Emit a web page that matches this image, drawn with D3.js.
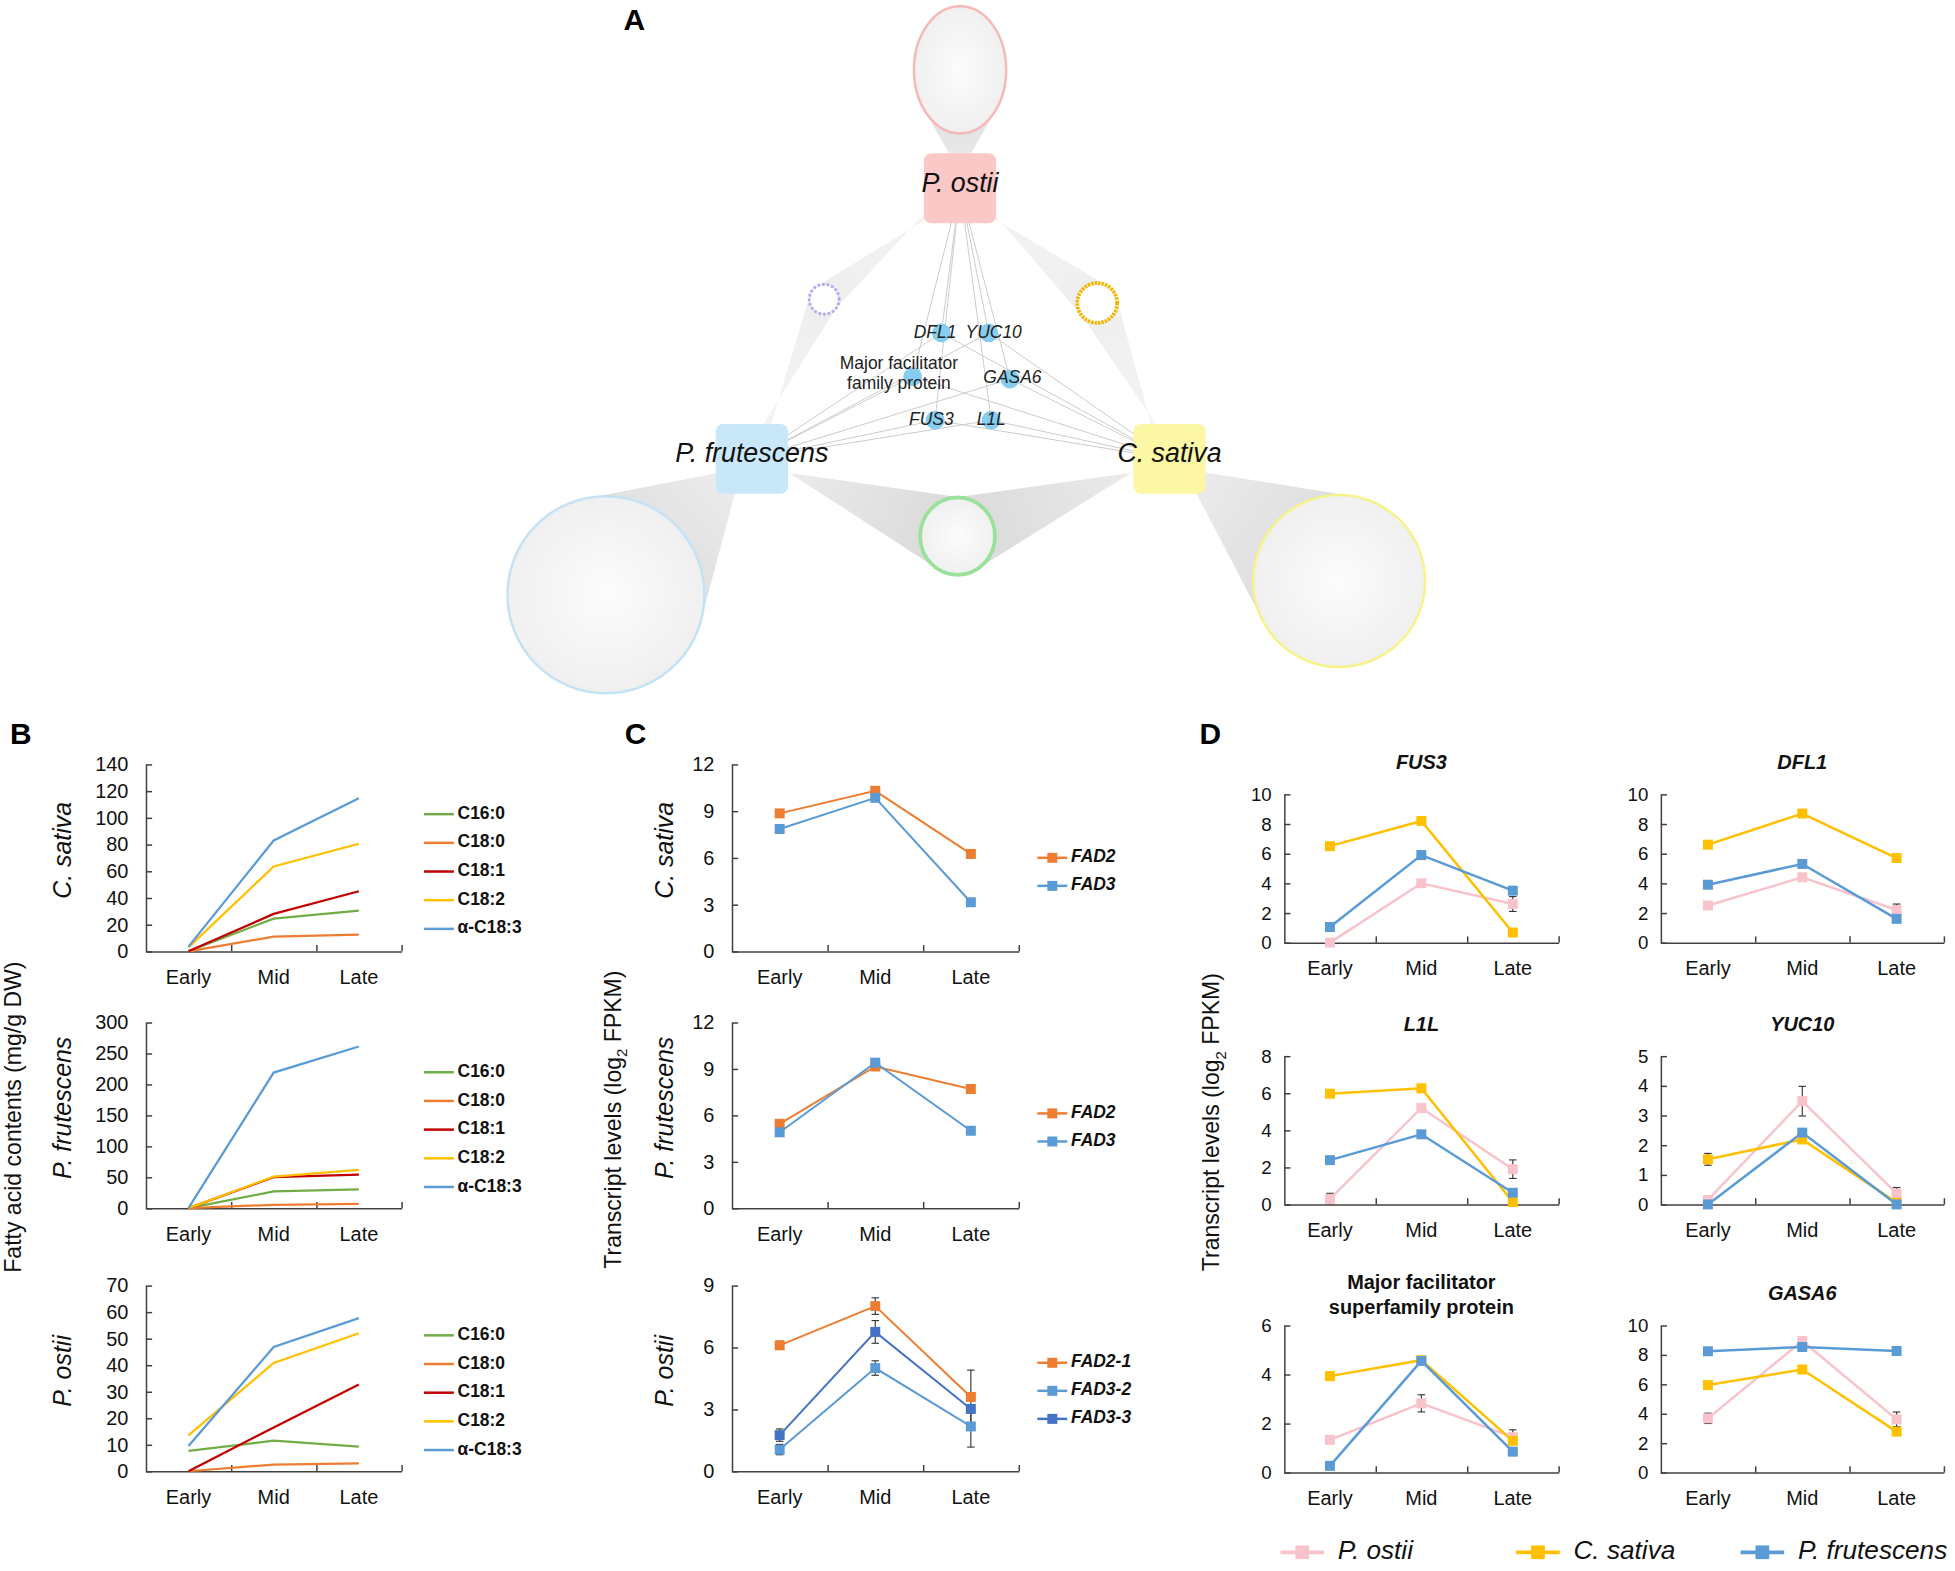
<!DOCTYPE html>
<html>
<head>
<meta charset="utf-8">
<script src="https://cdn.jsdelivr.net/npm/d3@7"></script>
<style>
  body { margin: 0; background: #fff; }
  svg { display: block; font-family: "Liberation Sans", Arial, sans-serif; }
</style>
</head>
<body>
<div id="fig"></div>
<script>
// ---------- data ----------
var stages = ["Early", "Mid", "Late"];

// A: network
var hubs = ["P. ostii", "P. frutescens", "C. sativa"];
var genes = ["DFL1", "YUC10", "Major facilitator|family protein", "GASA6", "FUS3", "L1L"];
var clusterHubs = [[0], [1], [2], [0, 1], [0, 2], [1, 2]];

// B: fatty acid contents (mg/g DW), one row per fatty acid, Early/Mid/Late
var fattyAcids = ["C16:0", "C18:0", "C18:1", "C18:2", "α-C18:3"];
var faSativa = [[0, 24.5, 30.5], [0, 11, 12.5], [0, 28, 45], [3, 63.5, 80.5], [3.5, 83, 114.5]];
var faFrutescens = [[0, 27, 30.5], [0, 5.5, 7], [0, 50, 54], [0, 51, 62], [0, 219, 261]];
var faOstii = [[7.7, 11.5, 9.3], [0, 2.5, 3], [0, 16.5, 32.7], [13.5, 40.8, 52], [9.5, 46.8, 57.7]];
var faTicks = [[0, 140, 20], [0, 300, 50], [0, 70, 10]];

// C: FAD transcript levels (log2 FPKM)
var fadGenes = ["FAD2", "FAD3"];
var fadSativa = [[8.85, 10.3, 6.25], [7.85, 9.85, 3.15]];
var fadFrutescens = [[5.45, 9.15, 7.7], [4.9, 9.4, 5.0]];
var fadGenesOstii = ["FAD2-1", "FAD3-2", "FAD3-3"];
var fadOstii = [[6.1, 8.0, 3.6], [1.05, 5.0, 2.17], [1.75, 6.75, 3.02]];
var fadOstiiErr = [[0.2, 0.4, 1.3], [0.25, 0.35, 1.0], [0.3, 0.55, 0.2]];

// D: candidate genes, species order P. ostii / C. sativa / P. frutescens
var species = ["P. ostii", "C. sativa", "P. frutescens"];
var dGenes = ["FUS3", "DFL1", "L1L", "YUC10", "Major facilitator|superfamily protein", "GASA6"];
var dMax = [10, 10, 8, 5, 6, 10];
var dStep = [2, 2, 2, 1, 2, 2];
var dOstii = [[0, 4.0, 2.6], [2.5, 4.4, 2.2], [0.3, 5.2, 1.9], [0.15, 3.48, 0.37], [1.33, 2.82, 1.44], [3.68, 8.94, 3.61]];
var dOstiiErr = [[0, 0.2, 0.5], [0.1, 0.2, 0.4], [0.3, 0.15, 0.5], [0.1, 0.5, 0.2], [0.1, 0.35, 0.3], [0.35, 0.2, 0.5]];
var dSativa = [[6.5, 8.2, 0.68], [6.6, 8.7, 5.7], [5.97, 6.26, 0.13], [1.52, 2.19, 0.06], [3.93, 4.58, 1.29], [5.94, 7.0, 2.78]];
var dSativaErr = [[0, 0.1, 0.1], [0.1, 0.1, 0.1], [0.1, 0.1, 0.1], [0.2, 0.1, 0], [0.1, 0.1, 0.1], [0.1, 0.1, 0.1]];
var dFrutescens = [[1.05, 5.9, 3.5], [3.9, 5.3, 1.6], [2.39, 3.78, 0.63], [0, 2.42, 0], [0.27, 4.55, 0.85], [8.24, 8.53, 8.26]];

// ---------- styles / layout ----------
var faColors = ["#70ad47", "#ed7d31", "#c00000", "#ffc000", "#5b9bd5"];
var fadColors = ["#ed7d31", "#5b9bd5"];
var fadOstiiColors = ["#ed7d31", "#5b9bd5", "#4472c4"];
var spColors = ["#f8c3cb", "#ffc000", "#5b9bd5"];

var hubColors = ["#fbc8c8", "#c8e7f9", "#fbf7a4"];
var clusterStroke = ["#f5b9b9", "#c3e2f5", "#f5f38a", "#b3acf0", "#f1b600", "#9ae29b"];
var axisColor = "#404040";

var svg = d3.select("#fig").append("svg")
    .attr("width", 1955).attr("height", 1571)
    .attr("viewBox", "0 0 1568 1260");

var defs = svg.append("defs");
var rg = defs.append("radialGradient").attr("id", "cfill");
rg.append("stop").attr("offset", "0%").attr("stop-color", "#fcfcfc");
rg.append("stop").attr("offset", "100%").attr("stop-color", "#f0f0f0");

// panel letters
[["A", 500, 24], ["B", 8, 597], ["C", 501, 597], ["D", 962, 597]].forEach(function(l) {
  svg.append("text").attr("x", l[1]).attr("y", l[2]).text(l[0])
    .style("font-weight", "bold").style("font-size", "24px");
});

// ---------- A: network ----------
var hubXY = [[770, 151], [603, 368], [938, 368]];
// cx, cy, rx, ry
var clusterXY = [[770, 56, 37, 51], [486, 477, 79, 79], [1074, 466, 69, 69], [661, 240, 12, 12], [880, 243, 16, 16], [768, 430, 30, 31]];
var geneXY = [[755, 267], [793, 267], [732, 302], [810, 304], [750, 337], [795, 337]];
var geneLabelXY = [[750, 267], [797, 267], [721, 292], [812, 303], [747, 337], [795, 337]];

var gA = svg.append("g");

// tangent points from p to an ellipse (affine map to a circle and back)
function tangentPts(p, c) {
  var k = c[2] / c[3];
  var dx = p[0] - c[0], dy = (p[1] - c[1]) * k;
  var d = Math.hypot(dx, dy), a = Math.atan2(dy, dx), b = Math.acos(Math.min(1, c[2] / d));
  return [a + b, a - b].map(function(t) {
    return [c[0] + c[2] * Math.cos(t), c[1] + c[2] * Math.sin(t) / k];
  });
}

// wedges (edge bundles) from hubs to clusters
clusterHubs.forEach(function(hs, ci) {
  var c = clusterXY[ci];
  hs.forEach(function(h) {
    var p = hubXY[h];
    var t = tangentPts(p, c);
    var ang = Math.atan2(c[1] - p[1], c[0] - p[0]) + Math.PI / 2;
    var w = 7;
    var id = "wg" + ci + "_" + h;
    var lg = defs.append("linearGradient").attr("id", id).attr("gradientUnits", "userSpaceOnUse")
      .attr("x1", p[0]).attr("y1", p[1]).attr("x2", c[0]).attr("y2", c[1]);
    var faint = ci === 3 || ci === 4;
    lg.append("stop").attr("offset", "0%").attr("stop-color", faint ? "#f5f5f5" : "#efefef");
    lg.append("stop").attr("offset", "100%").attr("stop-color", faint ? "#eeeeee" : "#d9d9d9");
    gA.append("polygon")
      .attr("points", [[p[0] + w * Math.cos(ang), p[1] + w * Math.sin(ang)], t[0], t[1],
                       [p[0] - w * Math.cos(ang), p[1] - w * Math.sin(ang)]].map(function(q) { return q.join(","); }).join(" "))
      .attr("fill", "url(#" + id + ")");
  });
});

// gene edges
genes.forEach(function(gname, gi) {
  hubXY.forEach(function(p) {
    gA.append("line").attr("x1", geneXY[gi][0]).attr("y1", geneXY[gi][1])
      .attr("x2", p[0]).attr("y2", p[1])
      .attr("stroke", "#cccccc").attr("stroke-width", 0.8);
  });
});

// clusters
clusterXY.forEach(function(c, i) {
  var el = gA.append("ellipse").attr("cx", c[0]).attr("cy", c[1]).attr("rx", c[2]).attr("ry", c[3])
    .attr("fill", "url(#cfill)")
    .attr("stroke", clusterStroke[i]).attr("stroke-width", i >= 3 ? 3 : 2);
  if (i === 3) el.attr("stroke-dasharray", "0.1 3.6").attr("stroke-linecap", "round").attr("stroke-width", 2.6).attr("fill", "#fff");
  if (i === 4) el.attr("stroke-dasharray", "2 0.8").attr("fill", "#fff");
});

// hubs
hubs.forEach(function(h, i) {
  gA.append("rect").attr("x", hubXY[i][0] - 29).attr("y", hubXY[i][1] - 28)
    .attr("width", 58).attr("height", 56).attr("rx", 6)
    .attr("fill", hubColors[i]);
});
hubs.forEach(function(h, i) {
  gA.append("text").attr("x", hubXY[i][0]).attr("y", hubXY[i][1] - 3)
    .attr("text-anchor", "middle").attr("dominant-baseline", "middle")
    .style("font-style", "italic").style("font-size", "21.5px").attr("fill", "#111").text(h);
});

// gene nodes
geneXY.forEach(function(p) {
  gA.append("circle").attr("cx", p[0]).attr("cy", p[1]).attr("r", 7.5).attr("fill", "#86cdf0");
});
genes.forEach(function(gname, gi) {
  var parts = gname.split("|");
  var t = gA.append("text").attr("text-anchor", "middle").attr("dominant-baseline", "middle")
    .style("font-size", "14px").attr("fill", "#222")
    .style("font-style", parts.length > 1 ? "normal" : "italic");
  parts.forEach(function(s, k) {
    t.append("tspan").attr("x", geneLabelXY[gi][0]).attr("y", geneLabelXY[gi][1] + k * 16).text(s);
  });
});

// ---------- generic line chart ----------
function lineChart(cfg) {
  var g = svg.append("g");
  var x = d3.scaleBand().domain(stages).range([cfg.x0, cfg.x1]);
  var cx = function(i) { return x(stages[i]) + x.bandwidth() / 2; };
  var y = d3.scaleLinear().domain([0, cfg.max]).range([cfg.y1, cfg.y0]);

  var ya = g.append("g").attr("transform", "translate(" + cfg.x0 + ",0)")
    .call(d3.axisLeft(y).tickValues(d3.range(0, cfg.max + cfg.step / 2, cfg.step))
      .tickFormat(d3.format("d"))
      .tickSizeInner(-5).tickSizeOuter(0).tickPadding(cfg.pad));
  var xa = g.append("g").attr("transform", "translate(0," + cfg.y1 + ")")
    .call(d3.axisBottom(x).tickSize(0).tickPadding(cfg.xpad));
  xa.select(".domain").remove();
  var xb = d3.scaleLinear().domain([0, 3]).range([cfg.x0, cfg.x1]);
  var xt = g.append("g").attr("transform", "translate(0," + cfg.y1 + ")")
    .call(d3.axisBottom(xb).tickValues([1, 2, 3]).tickSizeInner(-5).tickSizeOuter(0).tickFormat(""));
  [ya, xa, xt].forEach(function(a) {
    a.attr("font-family", null).attr("font-size", null);
    a.selectAll("path,line").attr("stroke", axisColor).attr("stroke-width", 1.2);
    a.selectAll("text").attr("fill", "#111");
  });
  ya.selectAll("text").style("font-size", cfg.tickFs + "px");
  xa.selectAll("text").style("font-size", "16px");

  var line = d3.line().x(function(d, i) { return cx(i); }).y(function(d) { return y(d); });
  cfg.series.forEach(function(s, si) {
    g.append("path").datum(s).attr("d", line).attr("fill", "none")
      .attr("stroke", cfg.colors[si]).attr("stroke-width", cfg.lw);
  });
  if (cfg.errors) {
    cfg.series.forEach(function(s, si) {
      s.forEach(function(v, i) {
        var e = cfg.errors[si] && cfg.errors[si][i];
        if (!e) return;
        var eb = g.append("g").attr("stroke", "#333").attr("stroke-width", 0.9);
        eb.append("line").attr("x1", cx(i)).attr("x2", cx(i)).attr("y1", y(Math.max(0, v - e))).attr("y2", y(v + e));
        eb.append("line").attr("x1", cx(i) - 3).attr("x2", cx(i) + 3).attr("y1", y(v + e)).attr("y2", y(v + e));
        if (v - e > 0) eb.append("line").attr("x1", cx(i) - 3).attr("x2", cx(i) + 3).attr("y1", y(v - e)).attr("y2", y(v - e));
      });
    });
  }
  if (cfg.marker) {
    cfg.series.forEach(function(s, si) {
      g.selectAll(null).data(s).enter().append("rect")
        .attr("x", function(d, i) { return cx(i) - cfg.marker / 2; })
        .attr("y", function(d) { return y(d) - cfg.marker / 2; })
        .attr("width", cfg.marker).attr("height", cfg.marker)
        .attr("fill", cfg.colors[si]);
    });
  }
  if (cfg.label) {
    g.append("text")
      .attr("transform", "translate(" + cfg.labelX + "," + ((cfg.y0 + cfg.y1) / 2 - 6) + ") rotate(-90)")
      .attr("text-anchor", "middle").style("font-style", "italic").style("font-size", "20px")
      .attr("fill", "#111").text(cfg.label);
  }
  if (cfg.legend) {
    cfg.legend.forEach(function(name, li) {
      var ly = cfg.legY + li * cfg.legStep;
      g.append("line").attr("x1", cfg.legX).attr("x2", cfg.legX + 24).attr("y1", ly).attr("y2", ly)
        .attr("stroke", cfg.colors[li]).attr("stroke-width", 2);
      if (cfg.marker) {
        g.append("rect").attr("x", cfg.legX + 8).attr("y", ly - 4).attr("width", 8).attr("height", 8)
          .attr("fill", cfg.colors[li]);
      }
      g.append("text").attr("x", cfg.legX + 27).attr("y", ly).attr("dominant-baseline", "middle")
        .style("font-size", "14px").style("font-weight", "bold")
        .style("font-style", cfg.legItalic ? "italic" : "normal").attr("fill", "#111").text(name);
    });
  }
  return g;
}

var rowsY = [[613, 763], [820, 969], [1031, 1180]];

// ---------- B ----------
var faSets = [faSativa, faFrutescens, faOstii];
var spB = ["C. sativa", "P. frutescens", "P. ostii"];
faSets.forEach(function(set, r) {
  lineChart({
    x0: 117, x1: 322, y0: rowsY[r][0], y1: rowsY[r][1],
    max: faTicks[r][1], step: faTicks[r][2], pad: 14, xpad: 15, tickFs: 16,
    series: set, colors: faColors, lw: 1.8,
    label: spB[r], labelX: 57,
    legend: fattyAcids, legX: 340, legY: rowsY[r][0] + 40, legStep: 23
  });
});
svg.append("text").attr("transform", "translate(17,896) rotate(-90)")
  .attr("text-anchor", "middle").style("font-size", "18.5px").attr("fill", "#111")
  .text("Fatty acid contents (mg/g DW)");

// ---------- C ----------
var fadSets = [fadSativa, fadFrutescens, fadOstii];
var fadLeg = [fadGenes, fadGenes, fadGenesOstii];
var fadCol = [fadColors, fadColors, fadOstiiColors];
var fadTicks = [[12, 3], [12, 3], [9, 3]];
var fadLegY = [688, 893, 1093];
fadSets.forEach(function(set, r) {
  lineChart({
    x0: 587, x1: 817, y0: rowsY[r][0], y1: rowsY[r][1],
    max: fadTicks[r][0], step: fadTicks[r][1], pad: 14, xpad: 15, tickFs: 16,
    series: set, colors: fadCol[r], lw: 1.6, marker: 8,
    errors: r === 2 ? fadOstiiErr : null,
    label: spB[r], labelX: 540,
    legend: fadLeg[r], legX: 832, legY: fadLegY[r], legStep: 22.5, legItalic: true
  });
});
var tl = svg.append("text").attr("transform", "translate(498,898) rotate(-90)")
  .attr("text-anchor", "middle").style("font-size", "18.5px").attr("fill", "#111");
tl.append("tspan").text("Transcript levels (log");
tl.append("tspan").attr("dy", 5).style("font-size", "12px").text("2");
tl.append("tspan").attr("dy", -5).text(" FPKM)");

// ---------- D ----------
var dCols = [[1030, 1250], [1332, 1559]];
var dRows = [[637, 756], [847, 966], [1063, 1181]];
dGenes.forEach(function(gname, k) {
  var c = k % 2, r = Math.floor(k / 2);
  lineChart({
    x0: dCols[c][0], x1: dCols[c][1], y0: dRows[r][0], y1: dRows[r][1],
    max: dMax[k], step: dStep[k], pad: 10, xpad: 15, tickFs: 15,
    series: [dOstii[k], dSativa[k], dFrutescens[k]], colors: spColors, lw: 2, marker: 8,
    errors: [dOstiiErr[k], dSativaErr[k], null]
  });
  var parts = gname.split("|");
  var tx = (dCols[c][0] + dCols[c][1]) / 2;
  var t = svg.append("text").attr("text-anchor", "middle").style("font-size", "16px")
    .style("font-weight", "bold").style("font-style", parts.length > 1 ? "normal" : "italic").attr("fill", "#111");
  parts.forEach(function(s, j) {
    t.append("tspan").attr("x", tx)
      .attr("y", (parts.length > 1 ? dRows[r][0] - 29 : dRows[r][0] - 20) + j * 20).text(s);
  });
});
var tl2 = svg.append("text").attr("transform", "translate(978,900) rotate(-90)")
  .attr("text-anchor", "middle").style("font-size", "18.5px").attr("fill", "#111");
tl2.append("tspan").text("Transcript levels (log");
tl2.append("tspan").attr("dy", 5).style("font-size", "12px").text("2");
tl2.append("tspan").attr("dy", -5).text(" FPKM)");

// D legend
var legX = [1027, 1216, 1396];
species.forEach(function(s, i) {
  var lg = svg.append("g").attr("transform", "translate(" + legX[i] + ",1245)");
  lg.append("line").attr("x1", 0).attr("x2", 35).attr("stroke", spColors[i]).attr("stroke-width", 3);
  lg.append("rect").attr("x", 12).attr("y", -5.5).attr("width", 11).attr("height", 11).attr("fill", spColors[i]);
  lg.append("text").attr("x", 46).attr("dominant-baseline", "middle").style("font-size", "21px")
    .style("font-style", "italic").attr("fill", "#111").text(s);
});
</script>
</body>
</html>
